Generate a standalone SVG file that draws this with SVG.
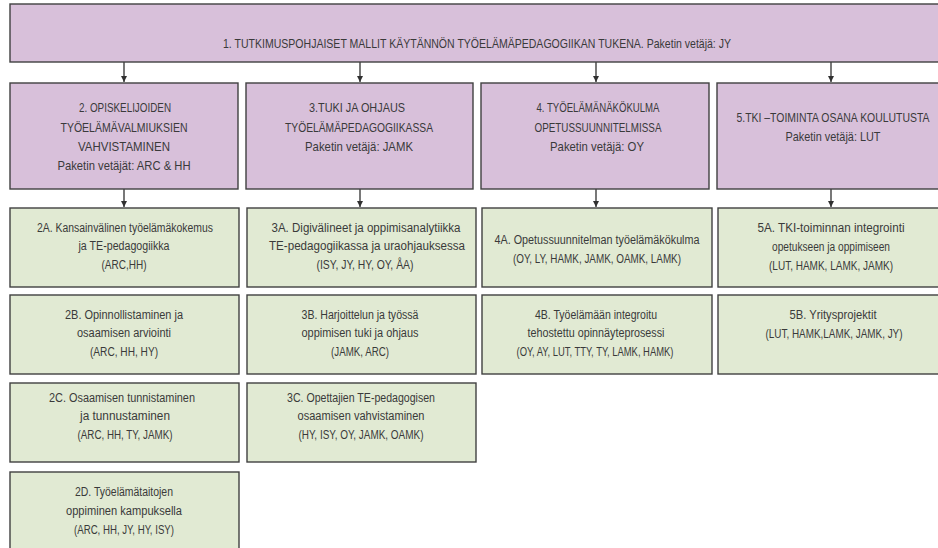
<svg xmlns="http://www.w3.org/2000/svg" width="938" height="548" viewBox="0 0 938 548">
<defs>
<style>
.p{fill:#d8c0da;stroke:#404040;stroke-width:1.4}
.g{fill:#e1ead3;stroke:#404040;stroke-width:1.4}
text{font-family:"Liberation Sans",Arial,sans-serif;fill:#3a3a3a;text-anchor:middle}
.h text{font-size:13px}
.s text{font-size:12px}
.c{stroke:#303030;stroke-width:1.3;fill:none}
</style>
<marker id="ah" markerWidth="7" markerHeight="6" refX="6" refY="3" orient="auto" markerUnits="userSpaceOnUse">
<path d="M0,0 L6,3 L0,6 Z" fill="#303030"/>
</marker>
</defs>
<rect width="938" height="548" fill="#ffffff"/>

<g id="connectors">
<line class="c" x1="124" y1="62" x2="124" y2="82" marker-end="url(#ah)"/>
<line class="c" x1="360" y1="62" x2="360" y2="82" marker-end="url(#ah)"/>
<line class="c" x1="596" y1="62" x2="596" y2="82" marker-end="url(#ah)"/>
<line class="c" x1="831" y1="62" x2="831" y2="82" marker-end="url(#ah)"/>
<line class="c" x1="124" y1="189" x2="124" y2="207" marker-end="url(#ah)"/>
<line class="c" x1="360" y1="189" x2="360" y2="207" marker-end="url(#ah)"/>
<line class="c" x1="596" y1="189" x2="596" y2="207" marker-end="url(#ah)"/>
<line class="c" x1="831" y1="189" x2="831" y2="207" marker-end="url(#ah)"/>
</g>

<g id="n1" class="h">
<rect class="p" x="10" y="4" width="940" height="58"/>
<text x="477" y="47.5" textLength="508" lengthAdjust="spacingAndGlyphs">1. TUTKIMUSPOHJAISET MALLIT KÄYTÄNNÖN TYÖELÄMÄPEDAGOGIIKAN TUKENA. Paketin vetäjä: JY</text>
</g>

<g id="n2" class="h">
<rect class="p" x="10" y="83" width="228" height="106"/>
<text x="125" y="112" textLength="92" lengthAdjust="spacingAndGlyphs">2. OPISKELIJOIDEN</text>
<text x="124" y="131.5" textLength="127" lengthAdjust="spacingAndGlyphs">TYÖELÄMÄVALMIUKSIEN</text>
<text x="124" y="151" textLength="92" lengthAdjust="spacingAndGlyphs">VAHVISTAMINEN</text>
<text x="124" y="170" textLength="133" lengthAdjust="spacingAndGlyphs">Paketin vetäjät: ARC &amp; HH</text>
</g>

<g id="n3" class="h">
<rect class="p" x="246" y="83" width="227" height="106"/>
<text x="357" y="112" textLength="96" lengthAdjust="spacingAndGlyphs">3.TUKI JA OHJAUS</text>
<text x="359" y="131.5" textLength="148" lengthAdjust="spacingAndGlyphs">TYÖELÄMÄPEDAGOGIIKASSA</text>
<text x="359" y="151" textLength="108" lengthAdjust="spacingAndGlyphs">Paketin vetäjä: JAMK</text>
</g>

<g id="n4" class="h">
<rect class="p" x="481" y="83" width="228" height="106"/>
<text x="598" y="112" textLength="123" lengthAdjust="spacingAndGlyphs">4. TYÖELÄMÄNÄKÖKULMA</text>
<text x="598" y="131.5" textLength="127" lengthAdjust="spacingAndGlyphs">OPETUSSUUNNITELMISSA</text>
<text x="597" y="151" textLength="94" lengthAdjust="spacingAndGlyphs">Paketin vetäjä: OY</text>
</g>

<g id="n5" class="h">
<rect class="p" x="717" y="83" width="230" height="106"/>
<text x="833" y="121.5" textLength="193" lengthAdjust="spacingAndGlyphs">5.TKI –TOIMINTA OSANA KOULUTUSTA</text>
<text x="833" y="141" textLength="95" lengthAdjust="spacingAndGlyphs">Paketin vetäjä: LUT</text>
</g>

<g id="n2A" class="s">
<rect class="g" x="10" y="208" width="229" height="79"/>
<text x="125" y="231.5" textLength="176" lengthAdjust="spacingAndGlyphs">2A. Kansainvälinen työelämäkokemus</text>
<text x="124" y="250" textLength="91" lengthAdjust="spacingAndGlyphs">ja TE-pedagogiikka</text>
<text x="124" y="269" textLength="45" lengthAdjust="spacingAndGlyphs">(ARC,HH)</text>
</g>

<g id="n2B" class="s">
<rect class="g" x="10" y="295" width="229" height="79"/>
<text x="124" y="318.5" textLength="118" lengthAdjust="spacingAndGlyphs">2B. Opinnollistaminen ja</text>
<text x="124" y="337" textLength="94" lengthAdjust="spacingAndGlyphs">osaamisen arviointi</text>
<text x="124" y="356" textLength="68" lengthAdjust="spacingAndGlyphs">(ARC, HH, HY)</text>
</g>

<g id="n2C" class="s">
<rect class="g" x="10" y="383" width="229" height="79"/>
<text x="122" y="401.5" textLength="146" lengthAdjust="spacingAndGlyphs">2C. Osaamisen tunnistaminen</text>
<text x="125" y="420" textLength="90" lengthAdjust="spacingAndGlyphs">ja tunnustaminen</text>
<text x="125" y="438.5" textLength="95" lengthAdjust="spacingAndGlyphs">(ARC, HH, TY, JAMK)</text>
</g>

<g id="n2D" class="s">
<rect class="g" x="10" y="472" width="229" height="82"/>
<text x="124" y="496" textLength="98" lengthAdjust="spacingAndGlyphs">2D. Työelämätaitojen</text>
<text x="124" y="515" textLength="116" lengthAdjust="spacingAndGlyphs">oppiminen kampuksella</text>
<text x="124" y="534" textLength="100" lengthAdjust="spacingAndGlyphs">(ARC, HH, JY, HY, ISY)</text>
</g>

<g id="n3A" class="s">
<rect class="g" x="247" y="208" width="229" height="79"/>
<text x="366" y="231.5" textLength="189" lengthAdjust="spacingAndGlyphs">3A. Digivälineet ja oppimisanalytiikka</text>
<text x="367" y="250" textLength="196" lengthAdjust="spacingAndGlyphs">TE-pedagogiikassa ja uraohjauksessa</text>
<text x="365" y="269" textLength="97" lengthAdjust="spacingAndGlyphs">(ISY, JY, HY, OY, ÅA)</text>
</g>

<g id="n3B" class="s">
<rect class="g" x="247" y="295" width="229" height="79"/>
<text x="360" y="318.5" textLength="117" lengthAdjust="spacingAndGlyphs">3B. Harjoittelun ja työssä</text>
<text x="360" y="337" textLength="117" lengthAdjust="spacingAndGlyphs">oppimisen tuki ja ohjaus</text>
<text x="360" y="356" textLength="58" lengthAdjust="spacingAndGlyphs">(JAMK, ARC)</text>
</g>

<g id="n3C" class="s">
<rect class="g" x="247" y="383" width="229" height="79"/>
<text x="361" y="401.5" textLength="148" lengthAdjust="spacingAndGlyphs">3C. Opettajien TE-pedagogisen</text>
<text x="361" y="420" textLength="127" lengthAdjust="spacingAndGlyphs">osaamisen vahvistaminen</text>
<text x="361" y="438.5" textLength="125" lengthAdjust="spacingAndGlyphs">(HY, ISY, OY, JAMK, OAMK)</text>
</g>

<g id="n4A" class="s">
<rect class="g" x="482" y="208" width="230" height="79"/>
<text x="597" y="244" textLength="205" lengthAdjust="spacingAndGlyphs">4A. Opetussuunnitelman työelämäkökulma</text>
<text x="597" y="262.5" textLength="168" lengthAdjust="spacingAndGlyphs">(OY, LY, HAMK, JAMK, OAMK, LAMK)</text>
</g>

<g id="n4B" class="s">
<rect class="g" x="482" y="295" width="230" height="79"/>
<text x="596" y="318.5" textLength="122" lengthAdjust="spacingAndGlyphs">4B. Työelämään integroitu</text>
<text x="596" y="337" textLength="137" lengthAdjust="spacingAndGlyphs">tehostettu opinnäyteprosessi</text>
<text x="595" y="356" textLength="157" lengthAdjust="spacingAndGlyphs">(OY, AY, LUT, TTY, TY, LAMK, HAMK)</text>
</g>

<g id="n5A" class="s">
<rect class="g" x="718" y="208" width="230" height="79"/>
<text x="831" y="232" textLength="147" lengthAdjust="spacingAndGlyphs">5A. TKI-toiminnan integrointi</text>
<text x="831" y="251" textLength="118" lengthAdjust="spacingAndGlyphs">opetukseen ja oppimiseen</text>
<text x="831" y="270" textLength="124" lengthAdjust="spacingAndGlyphs">(LUT, HAMK, LAMK, JAMK)</text>
</g>

<g id="n5B" class="s">
<rect class="g" x="718" y="295" width="230" height="79"/>
<text x="833" y="319" textLength="87" lengthAdjust="spacingAndGlyphs">5B. Yritysprojektit</text>
<text x="834" y="337.5" textLength="137" lengthAdjust="spacingAndGlyphs">(LUT, HAMK,LAMK, JAMK, JY)</text>
</g>
</svg>
